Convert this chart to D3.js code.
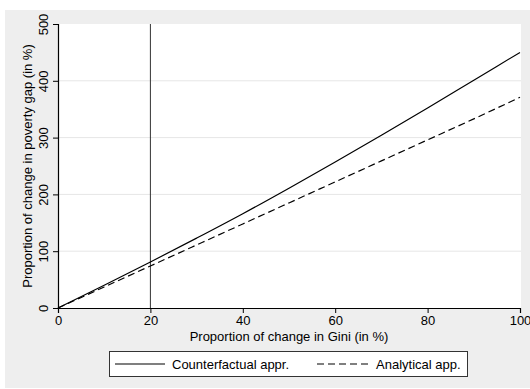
<!DOCTYPE html>
<html>
<head>
<meta charset="utf-8">
<script src="https://cdn.jsdelivr.net/npm/d3@7"></script>
<style>
  html, body { margin: 0; padding: 0; background: #ffffff; }
  svg { display: block; font-family: "Liberation Sans", Arial, sans-serif; }
</style>
</head>
<body>
<svg id="chart" width="530" height="389"></svg>
<script>
// Share of Gini change (%) and resulting change in poverty gap (%)
const giniChange = [0, 10, 20, 30, 40, 50, 60, 70, 80, 90, 100];
const counterfactual = [0, 40, 81, 123, 166, 211, 257, 304, 352, 401, 450];
const analytical = [0, 37, 74, 111, 148, 185, 222, 259, 296, 333, 371];
const xTicks = [0, 20, 40, 60, 80, 100];
const yTicks = [0, 100, 200, 300, 400, 500];
const refLine = 20;
const seriesNames = ["Counterfactual appr.", "Analytical app."];

const FS = 13;
const svg = d3.select("#chart");
const W = 530, H = 389;
const plot = { left: 58, right: 520, top: 24, bottom: 308 };

// outer graph region
svg.append("rect").attr("x", 5).attr("y", 10).attr("width", W - 5).attr("height", H - 11)
  .attr("fill", "#eeeeee");

// plot region
svg.append("rect").attr("x", plot.left).attr("y", plot.top)
  .attr("width", plot.right - plot.left + 1).attr("height", plot.bottom - plot.top)
  .attr("fill", "#ffffff");

const x = d3.scaleLinear().domain([0, 100]).range([plot.left, plot.right]);
const y = d3.scaleLinear().domain([0, 500]).range([plot.bottom, plot.top]);

// horizontal grid
svg.append("g").selectAll("line")
  .data(yTicks.filter(v => v > 0 && v < 500))
  .join("line")
  .attr("x1", plot.left).attr("x2", plot.right + 1)
  .attr("y1", d => y(d)).attr("y2", d => y(d))
  .attr("stroke", "#e6e6e6").attr("stroke-width", 1);

// reference line at 20% Gini change
svg.append("line")
  .attr("x1", x(refLine)).attr("x2", x(refLine))
  .attr("y1", plot.top).attr("y2", plot.bottom)
  .attr("stroke", "#333333").attr("stroke-width", 1);

// axes
const xAxis = svg.append("g").attr("transform", `translate(0,${plot.bottom})`)
  .call(d3.axisBottom(x).tickValues(xTicks).tickSize(5).tickPadding(2).tickFormat(d3.format("d")));
const yAxis = svg.append("g").attr("transform", `translate(${plot.left},0)`)
  .call(d3.axisLeft(y).tickValues(yTicks).tickSize(5).tickPadding(2).tickFormat(d3.format("d")));

[xAxis, yAxis].forEach(g => {
  g.select(".domain").attr("stroke", "#000").attr("stroke-width", 1.2);
  g.selectAll(".tick line").attr("stroke", "#000").attr("stroke-width", 1);
  g.selectAll(".tick text").attr("fill", "#000").attr("font-size", FS)
    .attr("font-family", "Liberation Sans, Arial, sans-serif");
});
xAxis.selectAll(".tick text").attr("dy", "0.75em").attr("y", 7);
// vertical y tick labels
yAxis.selectAll(".tick text")
  .attr("x", null).attr("dy", null)
  .attr("text-anchor", "middle")
  .attr("transform", "translate(-10,0) rotate(-90)")
  .attr("y", 0);

// axis titles
svg.append("text")
  .attr("x", (plot.left + plot.right) / 2).attr("y", 341)
  .attr("text-anchor", "middle").attr("font-size", FS).attr("fill", "#000")
  .text("Proportion of change in Gini (in %)");
svg.append("text")
  .attr("transform", `translate(32,${(plot.top + plot.bottom) / 2}) rotate(-90)`)
  .attr("text-anchor", "middle").attr("font-size", FS).attr("fill", "#000")
  .text("Proportion of change in poverty gap (in %)");

// series lines
const line = d3.line().x(d => x(d[0])).y(d => y(d[1])).curve(d3.curveMonotoneX);
svg.append("path")
  .datum(giniChange.map((g, i) => [g, counterfactual[i]]))
  .attr("d", line).attr("fill", "none")
  .attr("stroke", "#000").attr("stroke-width", 1.2);
svg.append("path")
  .datum(giniChange.map((g, i) => [g, analytical[i]]))
  .attr("d", line).attr("fill", "none")
  .attr("stroke", "#000").attr("stroke-width", 1.2)
  .attr("stroke-dasharray", "7,4");

// legend
const lg = svg.append("g");
lg.append("rect").attr("x", 109.5).attr("y", 351.5).attr("width", 358).attr("height", 25)
  .attr("fill", "#fff").attr("stroke", "#333").attr("stroke-width", 1);
const ly = 364;
lg.append("line").attr("x1", 115).attr("x2", 165).attr("y1", ly).attr("y2", ly)
  .attr("stroke", "#000").attr("stroke-width", 1.2);
lg.append("text").attr("x", 172).attr("y", ly + 4.5).attr("font-size", FS).attr("fill", "#000")
  .text(seriesNames[0]);
lg.append("line").attr("x1", 317).attr("x2", 370).attr("y1", ly).attr("y2", ly)
  .attr("stroke", "#000").attr("stroke-width", 1.2).attr("stroke-dasharray", "7,4");
lg.append("text").attr("x", 376).attr("y", ly + 4.5).attr("font-size", FS).attr("fill", "#000")
  .text(seriesNames[1]);
</script>
</body>
</html>
